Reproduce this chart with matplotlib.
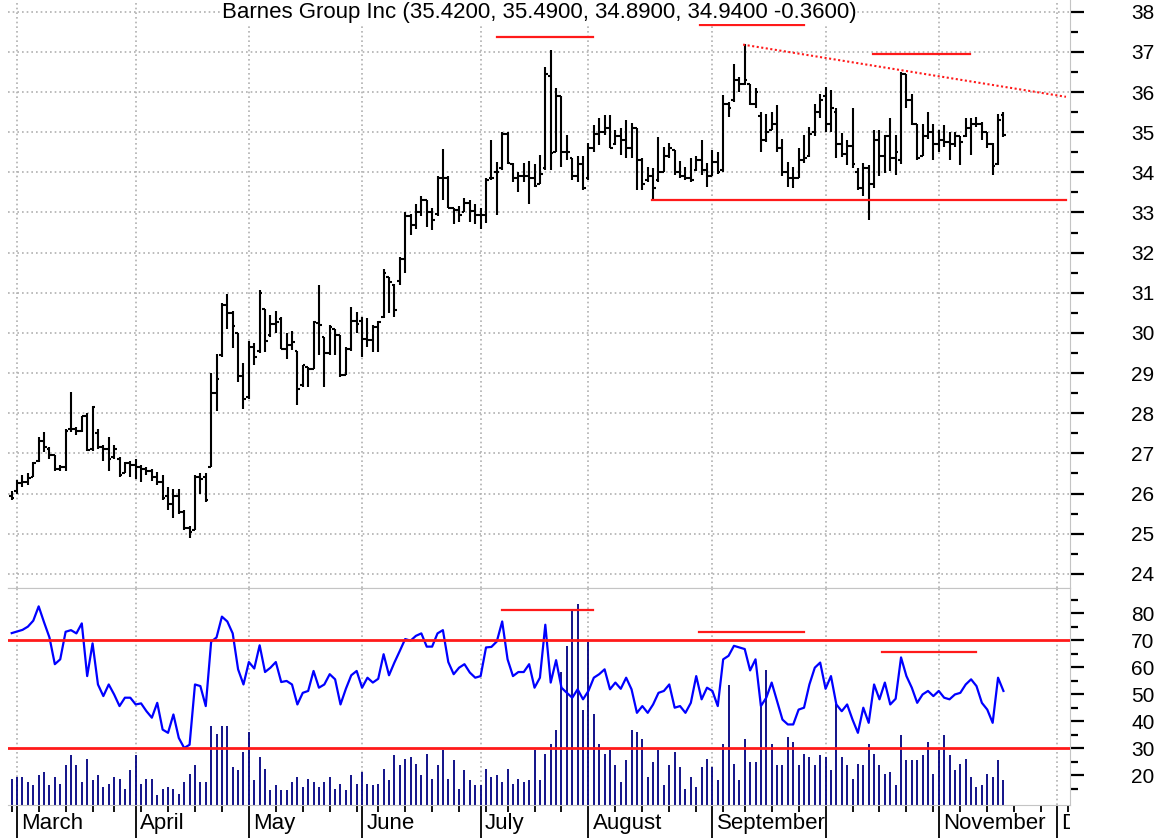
import matplotlib
matplotlib.use("Agg")
import matplotlib.pyplot as plt
import matplotlib.transforms as mtransforms
import numpy as np
import pandas as pd

plt.rcParams['font.family'] = ['Liberation Sans', 'DejaVu Sans']

# ---- data ----
title = "Barnes Group Inc (35.4200, 35.4900, 34.8900, 34.9400 -0.3600)"
start_date = "2005-02-28"
holidays = ["2005-03-25", "2005-05-30", "2005-07-04", "2005-09-05"]
n_future = 12   # empty trading days shown after the last bar

opens = [25.95, 26.05, 26.25, 26.28, 26.42, 26.80, 27.32, 27.10, 26.95, 26.60,
         26.65, 27.60, 27.60, 27.55, 27.92, 27.10, 27.50, 27.15, 27.10, 26.90,
         26.85, 26.50, 26.75, 26.70, 26.65, 26.60, 26.55, 26.40, 26.28, 25.95,
         25.75, 25.95, 25.55, 25.15, 25.10, 26.40, 26.40, 26.65, 28.50, 29.45,
         30.70, 30.50, 30.00, 28.93, 28.40, 29.65, 29.55, 30.60, 29.95, 30.23,
         30.35, 29.60, 29.69, 29.55, 28.70, 29.15, 29.10, 30.25, 29.90, 29.50,
         30.10, 29.94, 28.94, 29.60, 30.30, 30.30, 29.86, 29.82, 30.15, 30.40,
         31.40, 31.20, 31.30, 31.85, 32.90, 32.69, 33.00, 33.30, 33.00, 32.95,
         33.86, 33.86, 33.10, 33.07, 33.00, 33.23, 33.03, 32.94, 32.94, 33.86,
         34.00, 34.10, 34.95, 34.20, 33.85, 33.90, 33.90, 33.85, 33.70, 34.10,
         36.40, 34.50, 35.90, 34.50, 34.35, 33.90, 34.20, 33.85, 34.60, 34.95,
         35.00, 35.10, 34.70, 34.90, 34.80, 34.60, 35.10, 34.30, 33.80, 33.90,
         33.80, 34.00, 34.40, 34.55, 34.00, 33.90, 33.85, 34.05, 34.30, 34.05,
         33.90, 34.25, 34.05, 35.70, 35.80, 36.30, 36.20, 36.20, 35.70, 35.40,
         34.80, 35.05, 35.20, 34.60, 34.00, 33.85, 33.85, 34.30, 34.40, 35.00,
         35.50, 35.90, 35.20, 35.50, 34.70, 34.45, 34.65, 34.00, 33.60, 34.10,
         33.70, 34.80, 34.40, 34.90, 34.35, 34.30, 36.45, 35.80, 35.20, 34.40,
         34.90, 35.00, 34.70, 34.80, 34.75, 34.70, 34.90, 34.90, 35.10, 35.20,
         35.20, 35.00, 34.70, 34.20, 35.42]

highs = [26.05, 26.33, 26.45, 26.50, 26.78, 27.40, 27.53, 27.15, 26.95, 26.70,
         27.60, 28.54, 27.65, 27.94, 28.00, 28.17, 27.60, 27.20, 27.40, 27.20,
         26.90, 26.78, 26.82, 26.86, 26.70, 26.65, 26.60, 26.53, 26.45, 26.15,
         26.10, 26.10, 25.60, 25.20, 26.45, 26.50, 26.50, 29.00, 29.47, 30.75,
         30.96, 30.55, 30.00, 29.26, 29.80, 29.75, 31.07, 30.60, 30.45, 30.55,
         30.40, 30.00, 30.04, 29.55, 29.20, 29.15, 30.30, 31.20, 29.86, 30.20,
         30.00, 29.94, 29.65, 30.65, 30.52, 30.40, 30.36, 30.20, 30.30, 31.60,
         31.40, 31.23, 31.90, 33.00, 32.95, 33.20, 33.40, 33.20, 33.10, 33.90,
         34.57, 33.90, 33.10, 33.15, 33.35, 33.30, 33.20, 33.10, 33.86, 34.80,
         34.25, 35.00, 35.00, 34.22, 34.00, 34.22, 34.27, 34.20, 34.43, 36.63,
         37.04, 36.09, 35.10, 34.93, 34.35, 34.40, 34.40, 34.72, 35.18, 35.35,
         35.43, 35.43, 35.05, 35.10, 35.30, 35.22, 34.85, 34.35, 34.14, 34.10,
         34.88, 34.64, 34.72, 34.55, 34.27, 34.14, 34.35, 34.40, 34.80, 34.22,
         34.55, 34.50, 35.92, 35.76, 36.70, 36.38, 37.20, 36.20, 36.10, 35.50,
         35.46, 35.50, 35.67, 34.84, 34.26, 34.14, 34.60, 34.93, 35.13, 35.71,
         35.96, 36.12, 36.04, 35.60, 34.97, 34.80, 35.59, 34.10, 34.22, 34.18,
         35.05, 35.05, 34.93, 35.34, 34.93, 36.50, 36.00, 35.96, 35.21, 35.21,
         35.50, 35.21, 35.05, 35.17, 35.00, 35.00, 34.88, 35.34, 35.34, 35.38,
         35.26, 35.00, 34.72, 35.46, 35.49]

lows = [25.83, 26.00, 26.15, 26.20, 26.40, 26.78, 27.03, 26.86, 26.57, 26.57,
        26.57, 27.53, 27.45, 27.53, 27.07, 27.07, 27.10, 26.82, 26.57, 26.86,
        26.41, 26.50, 26.41, 26.37, 26.29, 26.45, 26.30, 26.20, 25.83, 25.60,
        25.40, 25.50, 25.10, 24.90, 25.10, 26.00, 25.80, 26.65, 28.06, 29.40,
        30.10, 29.63, 28.77, 28.10, 28.35, 29.20, 29.50, 29.52, 29.90, 30.00,
        29.60, 29.34, 29.58, 28.20, 28.65, 28.65, 29.10, 29.44, 28.65, 29.44,
        29.44, 28.90, 28.94, 29.55, 30.00, 29.40, 29.65, 29.52, 29.52, 30.38,
        30.50, 30.40, 31.20, 31.50, 32.45, 32.60, 32.90, 32.64, 32.56, 32.90,
        33.30, 33.10, 32.70, 32.76, 33.00, 32.76, 32.70, 32.60, 32.74, 33.80,
        32.94, 34.05, 34.20, 33.77, 33.52, 33.77, 33.20, 33.64, 33.72, 34.06,
        34.06, 34.85, 34.14, 34.30, 33.81, 33.77, 33.56, 33.80, 34.50, 34.68,
        34.93, 34.60, 34.68, 34.43, 34.35, 34.35, 33.56, 33.56, 33.77, 33.30,
        33.77, 34.30, 34.35, 33.93, 33.85, 33.81, 33.77, 34.02, 33.93, 33.64,
        34.10, 33.95, 34.00, 35.38, 35.76, 36.00, 36.17, 35.67, 35.60, 34.51,
        34.76, 35.05, 34.50, 33.90, 33.64, 33.60, 33.85, 34.22, 34.39, 34.90,
        35.34, 35.00, 35.00, 34.35, 34.39, 34.18, 34.10, 33.56, 33.40, 32.80,
        33.60, 33.90, 33.98, 34.02, 33.93, 34.20, 35.59, 35.17, 34.30, 34.55,
        34.84, 34.30, 34.51, 34.64, 34.30, 34.64, 34.18, 34.88, 34.43, 35.13,
        34.80, 34.60, 33.93, 34.18, 34.89]

closes = [25.88, 26.25, 26.28, 26.38, 26.75, 27.32, 27.15, 26.95, 26.60, 26.65,
          27.55, 27.60, 27.55, 27.92, 27.08, 28.15, 27.15, 27.10, 26.85, 27.10,
          26.45, 26.75, 26.70, 26.65, 26.60, 26.55, 26.40, 26.28, 25.90, 25.75,
          25.95, 25.55, 25.15, 25.05, 26.40, 26.35, 25.85, 28.50, 28.86, 30.70,
          30.50, 30.17, 28.93, 28.35, 29.65, 29.40, 31.00, 29.80, 30.23, 30.27,
          29.60, 29.69, 29.78, 28.60, 29.19, 29.10, 30.28, 30.20, 29.50, 30.15,
          29.94, 28.94, 29.60, 30.30, 30.23, 29.86, 29.82, 30.15, 30.28, 31.48,
          31.27, 30.57, 31.85, 32.90, 32.69, 33.00, 33.30, 33.00, 32.80, 33.86,
          33.86, 33.10, 33.07, 32.94, 33.23, 33.03, 32.94, 32.94, 33.82, 33.86,
          34.00, 34.95, 34.22, 33.85, 33.90, 33.90, 33.85, 33.65, 33.95, 36.45,
          34.47, 35.90, 34.50, 34.50, 33.90, 34.20, 33.60, 34.60, 34.95, 35.00,
          35.10, 34.60, 34.90, 34.80, 34.60, 35.10, 34.30, 33.70, 33.90, 33.60,
          34.00, 34.40, 34.60, 34.00, 33.90, 33.85, 33.80, 34.30, 34.05, 33.90,
          34.25, 34.00, 35.70, 35.60, 36.30, 36.20, 36.30, 35.70, 36.00, 34.80,
          35.00, 35.20, 34.60, 34.00, 33.85, 33.85, 34.30, 34.35, 34.95, 35.50,
          35.80, 35.20, 35.60, 34.70, 34.45, 34.65, 34.20, 33.60, 34.10, 33.70,
          34.80, 34.40, 34.90, 34.35, 34.50, 36.45, 35.80, 35.20, 34.35, 34.90,
          35.00, 34.70, 34.80, 34.75, 34.70, 34.90, 34.75, 35.10, 35.20, 35.20,
          35.00, 34.70, 34.15, 35.30, 34.94]

rsi = [72.6, 73.2, 73.8, 75.0, 77.2, 82.5, 76.6, 71.0, 61.1, 62.9,
       73.1, 73.7, 72.5, 76.2, 56.7, 68.8, 53.6, 49.3, 53.6, 49.9,
       45.6, 48.7, 48.7, 46.2, 46.6, 43.7, 41.3, 46.8, 36.9, 35.7,
       42.5, 33.8, 30.1, 31.3, 53.6, 53.0, 45.6, 69.4, 71.0, 78.7,
       76.9, 72.5, 59.2, 53.6, 61.9, 59.5, 68.1, 58.2, 59.8, 61.9,
       54.5, 54.9, 53.6, 46.2, 50.5, 51.2, 58.6, 52.4, 53.6, 57.4,
       55.5, 46.2, 52.0, 57.0, 58.6, 52.4, 56.1, 54.3, 55.7, 64.8,
       57.0, 61.7, 66.0,
       70.4, 69.8, 71.6, 72.5, 67.6, 67.6, 72.5, 73.7, 61.9, 57.4,
       59.8, 61.1, 58.0, 56.1, 56.7, 67.3, 67.5, 69.5, 76.9, 62.9,
       56.7, 58.2, 58.2, 61.1, 52.4, 56.1, 75.7, 54.3, 62.6, 52.4,
       50.5, 48.7, 51.8, 48.1, 51.2, 56.1, 57.4, 59.2, 51.8, 54.3,
       52.0, 56.1, 51.8, 43.1, 45.6, 43.1, 46.2, 50.5, 51.2, 53.6,
       45.0, 45.6, 43.1, 46.8, 56.7, 48.1, 52.4, 51.2, 45.6, 62.9,
       64.2, 67.9, 67.3, 66.7, 58.8, 62.9, 45.6, 48.7, 54.3, 47.4,
       40.6, 38.8, 38.8, 44.3,
       45.0, 53.6, 59.8, 61.7, 52.0, 56.7, 46.2, 43.7, 46.2, 40.6,
       35.7, 45.0, 39.4, 53.6, 48.1, 54.3, 46.2, 48.3, 63.6, 56.7,
       52.4, 46.8, 49.9, 51.2, 49.3, 51.2, 48.7, 48.1, 49.9, 50.5,
       53.6, 55.5, 53.0, 46.8, 44.3, 39.4, 56.1, 51.2]

# volume, thousands of shares
volume = [53, 57, 57, 47, 40, 60, 67, 40, 57, 43,
          80, 100, 80, 47, 93, 50, 60, 37, 43, 57,
          53, 33, 70, 100, 43, 53, 53, 20, 33, 37,
          33, 23, 47, 63, 80, 47, 47, 158, 143, 158,
          158, 77, 70, 107, 147, 50, 97, 73, 30, 40,
          30, 30, 47, 57, 37, 53, 47, 37, 47, 57,
          33, 43, 30, 60, 43, 67, 43, 41, 43, 73,
          50, 100, 80,
          93, 97, 83, 60, 103, 53, 80, 110, 53, 90,
          33, 70, 50, 40, 40, 73, 57, 60, 47, 73,
          43, 53, 47, 50, 110, 50, 103, 123, 150, 267,
          318, 390, 403, 190, 327, 183, 123, 103, 110, 80,
          47, 90, 150, 147, 133, 57, 87, 110, 40, 80,
          107, 77, 33, 57, 37, 77, 93, 77, 50, 123,
          240, 83, 50, 133, 87, 87, 199, 270, 123, 80,
          80, 137, 127,
          80, 103, 97, 80, 100, 97, 70, 203, 97, 80,
          53, 83, 80, 123, 103, 80, 63, 67, 40, 140,
          90, 90, 90, 100, 127, 63, 110, 140, 100, 70,
          83, 93, 57, 37, 40, 63, 57, 90, 50]

month_labels = ["March", "April", "May", "June", "July", "August",
                "September", "", "November", "December"]

# red study lines drawn by hand on the chart (bar index, level)
res_start = [90.0, 127.7, 159.8]
res_end = [107.8, 147.0, 177.8]
res_level = [37.37, 37.68, 36.95]
trend_x = [135.7, 195.6]
trend_y = [37.18, 35.88]
support_x = [118.8, 195.6]
support_level = 33.30
rsi_seg_start = [90.9, 127.5, 161.4]
rsi_seg_end = [107.9, 147.0, 178.9]
rsi_seg_level = [81.3, 73.0, 65.6]
rsi_bands = [70, 30]

# ---- layout ----
W, H = 1165, 838
fig = plt.figure(figsize=(W / 100, H / 100), dpi=100)
left = 8 / W
width = (1070 - 8) / W
ax_p = fig.add_axes([left, (H - 588) / H, width, 588 / H])
ax_v = fig.add_axes([left, (H - 805) / H, width, (805 - 588) / H], sharex=ax_p)
ax_r = ax_v.twinx()

n = len(closes)
x = np.arange(n)
dates = pd.bdate_range(start_date, periods=n + n_future, freq='C', holidays=holidays)
month_idx = [i for i in range(1, len(dates)) if dates[i].month != dates[i - 1].month]
week_idx = [0] + [i for i in range(1, len(dates)) if dates[i].weekday() <= dates[i - 1].weekday()]

grid_kw = dict(color='#b0b0b0', lw=1.2, linestyle=(0, (1, 1.8)), zorder=0)
spine_c = '#c4c4c4'

# ---- price panel ----
o = np.array(opens); hi = np.array(highs); lo = np.array(lows); c = np.array(closes)
top = np.maximum(hi, np.maximum(o, c))
bot = np.minimum(lo, np.minimum(o, c))
ax_p.vlines(x, bot, top, color='black', lw=1.5, zorder=3)
ax_p.hlines(o, x - 0.5, x, color='black', lw=1.5, zorder=3)
ax_p.hlines(c, x, x + 0.5, color='black', lw=1.5, zorder=3)

for m in month_idx:
    ax_p.axvline(m, **grid_kw)
for yv in range(24, 39):
    ax_p.axhline(yv, **grid_kw)

for s, e, lv in zip(res_start, res_end, res_level):
    ax_p.plot([s, e], [lv, lv], color='#ff1a1a', lw=1.6, zorder=4)
ax_p.plot(trend_x, trend_y, color='#ff1a1a', lw=1.5, linestyle=(0, (1, 1.2)), zorder=4)
ax_p.plot(support_x, [support_level, support_level], color='#ff1a1a', lw=1.6, zorder=4)

ax_p.set_xlim(-0.69, 196.35)
ax_p.set_ylim(38 - (588 - 11.7) / 40.15, 38 + 11.7 / 40.15)
ax_p.yaxis.tick_right()
ax_p.set_yticks(range(24, 39))
ax_p.set_yticks(np.arange(24.5, 38, 1.0), minor=True)
ax_p.tick_params(axis='y', which='major', length=10, width=1.6, pad=34, labelsize=15, colors='black')
ax_p.tick_params(axis='y', which='minor', length=6, width=1.6)
ax_p.tick_params(axis='x', which='both', bottom=False, labelbottom=False)
for sp in ['left', 'top']:
    ax_p.spines[sp].set_visible(False)
for sp in ['right', 'bottom']:
    ax_p.spines[sp].set_color(spine_c)

fig.text((8 + 1070) / 2 / W, 1 - 2 / H, title, ha='center', va='top', fontsize=16,
         bbox=dict(facecolor='white', edgecolor='none', pad=0.5))

# ---- volume / RSI panel ----
ax_v.vlines(x, 0, volume, color='#000080', lw=1.3, zorder=2)
for m in month_idx:
    ax_v.axvline(m, **grid_kw)
ax_v.set_ylim(0, 434)
ax_v.set_yticks([])
ax_v.set_xticks(month_idx)
ax_v.set_xticks(week_idx, minor=True)
ax_v.tick_params(axis='x', which='major', length=24, width=1.3, labelbottom=False)
ax_v.tick_params(axis='x', which='minor', length=5, width=1.3)
ax_v.spines['left'].set_visible(False)
ax_v.spines['right'].set_visible(False)
for sp in ['top', 'bottom']:
    ax_v.spines[sp].set_color(spine_c)

ax_r.plot(x, rsi, color='#0000ff', lw=1.6, zorder=3)
for b in rsi_bands:
    ax_r.axhline(b, color='#ff1a1a', lw=2, zorder=4)
for s, e, lv in zip(rsi_seg_start, rsi_seg_end, rsi_seg_level):
    ax_r.plot([s, e], [lv, lv], color='#ff1a1a', lw=1.6, zorder=4)
ax_r.set_ylim(80 - 191 / 2.69, 80 + 25 / 2.69)
ax_r.set_yticks(range(20, 90, 10))
ax_r.set_yticks(range(15, 90, 10), minor=True)
ax_r.tick_params(axis='y', which='major', length=10, width=1.6, pad=34, labelsize=15)
ax_r.tick_params(axis='y', which='minor', length=6, width=1.6)
for sp in ['left', 'top', 'bottom']:
    ax_r.spines[sp].set_visible(False)
ax_r.spines['right'].set_color(spine_c)

# month names below the axis, clipped at the right edge of the plot
clip = mtransforms.TransformedBbox(mtransforms.Bbox([[0, 0], [1070 / W, 1]]), fig.transFigure)
base = mtransforms.blended_transform_factory(ax_v.transData, ax_v.transAxes)
lab_tr = mtransforms.offset_copy(base, fig=fig, x=3, y=-6, units='points')
for m, lab in zip(month_idx, month_labels):
    t = ax_v.text(m, 0, lab, transform=lab_tr, ha='left', va='top', fontsize=16)
    t.set_clip_box(clip)
    t.set_clip_on(True)

fig.savefig("out.png", dpi=100)
